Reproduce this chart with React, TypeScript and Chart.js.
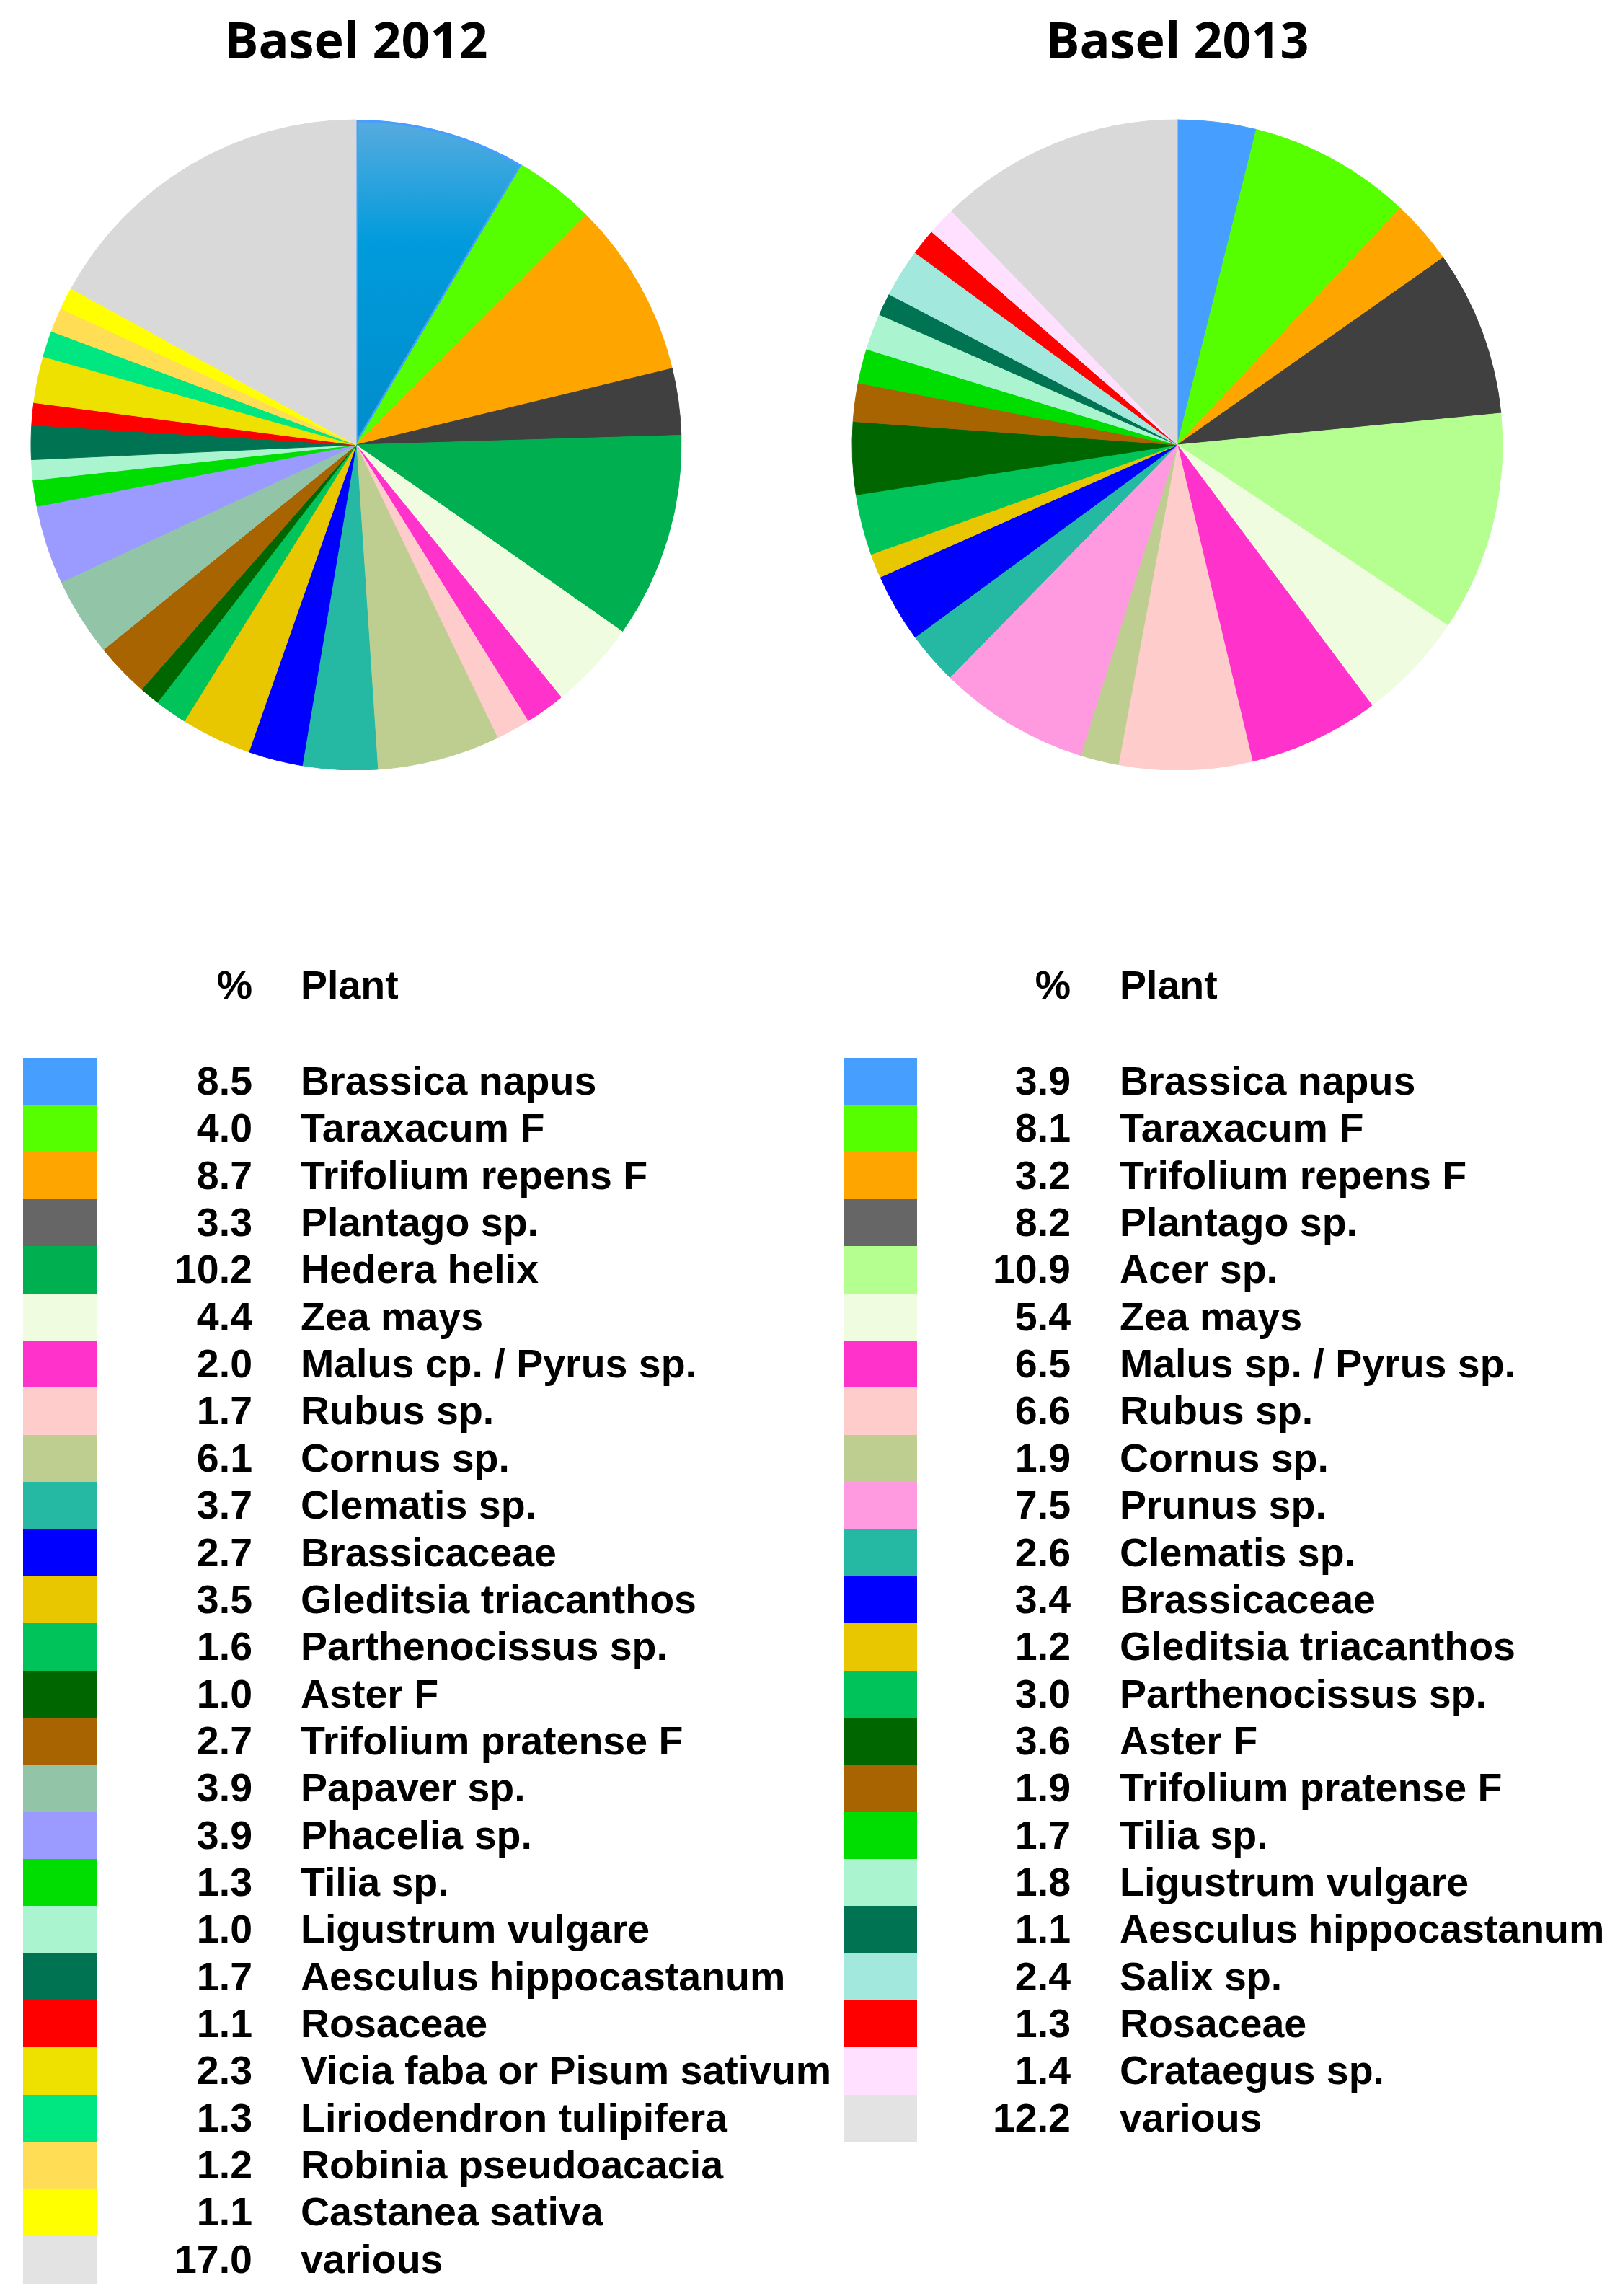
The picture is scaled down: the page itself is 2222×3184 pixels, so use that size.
import React, { useEffect, useRef } from "react";
import { Chart, registerables } from "chart.js";

Chart.register(...registerables);

// ---------- data ----------
const titles = ["Basel 2012", "Basel 2013"];

const plants2012 = [
  "Brassica napus", "Taraxacum F", "Trifolium repens F", "Plantago sp.", "Hedera helix",
  "Zea mays", "Malus cp. / Pyrus sp.", "Rubus sp.", "Cornus sp.", "Clematis sp.",
  "Brassicaceae", "Gleditsia triacanthos", "Parthenocissus sp.", "Aster F", "Trifolium pratense F",
  "Papaver sp.", "Phacelia sp.", "Tilia sp.", "Ligustrum vulgare", "Aesculus hippocastanum",
  "Rosaceae", "Vicia faba or Pisum sativum", "Liriodendron tulipifera", "Robinia pseudoacacia",
  "Castanea sativa", "various",
];
const values2012 = [
  8.5, 4.0, 8.7, 3.3, 10.2, 4.4, 2.0, 1.7, 6.1, 3.7, 2.7, 3.5, 1.6, 1.0, 2.7,
  3.9, 3.9, 1.3, 1.0, 1.7, 1.1, 2.3, 1.3, 1.2, 1.1, 17.0,
];
const sliceColors2012 = [
  "#0099DA", "#55FF00", "#FFA500", "#404040", "#00B050", "#EFFCE0", "#FF33CC", "#FFCCCC",
  "#BECE90", "#25B8A2", "#0000FF", "#E8C600", "#00C35A", "#006600", "#A86400", "#92C4A8",
  "#9B9BFF", "#00DD00", "#AAF5D0", "#007352", "#FF0000", "#EEE100", "#00E680", "#FFDD55",
  "#FFFF00", "#D9D9D9",
];
const legendColors2012 = [
  "#469EFF", "#55FF00", "#FFA500", "#666666", "#00B050", "#EFFCE0", "#FF33CC", "#FFCCCC",
  "#BECE90", "#25B8A2", "#0000FF", "#E8C600", "#00C35A", "#006600", "#A86400", "#92C4A8",
  "#9B9BFF", "#00DD00", "#AAF5D0", "#007352", "#FF0000", "#EEE100", "#00E680", "#FFDD55",
  "#FFFF00", "#E3E3E3",
];

const plants2013 = [
  "Brassica napus", "Taraxacum F", "Trifolium repens F", "Plantago sp.", "Acer sp.",
  "Zea mays", "Malus sp. / Pyrus sp.", "Rubus sp.", "Cornus sp.", "Prunus sp.",
  "Clematis sp.", "Brassicaceae", "Gleditsia triacanthos", "Parthenocissus sp.", "Aster F",
  "Trifolium pratense F", "Tilia sp.", "Ligustrum vulgare", "Aesculus hippocastanum",
  "Salix sp.", "Rosaceae", "Crataegus sp.", "various",
];
const values2013 = [
  3.9, 8.1, 3.2, 8.2, 10.9, 5.4, 6.5, 6.6, 1.9, 7.5, 2.6, 3.4, 1.2, 3.0, 3.6,
  1.9, 1.7, 1.8, 1.1, 2.4, 1.3, 1.4, 12.2,
];
const sliceColors2013 = [
  "#469EFF", "#55FF00", "#FFA500", "#404040", "#B4FF90", "#EFFCE0", "#FF33CC", "#FFCCCC",
  "#BECE90", "#FF99E0", "#25B8A2", "#0000FF", "#E8C600", "#00C35A", "#006600", "#A86400",
  "#00DD00", "#AAF5D0", "#007352", "#A2E8DD", "#FF0000", "#FFE0FF", "#D9D9D9",
];
const legendColors2013 = [
  "#469EFF", "#55FF00", "#FFA500", "#666666", "#B4FF90", "#EFFCE0", "#FF33CC", "#FFCCCC",
  "#BECE90", "#FF99E0", "#25B8A2", "#0000FF", "#E8C600", "#00C35A", "#006600", "#A86400",
  "#00DD00", "#AAF5D0", "#007352", "#A2E8DD", "#FF0000", "#FFE0FF", "#E3E3E3",
];

const legendHeader = ["%", "Plant"];

// ---------- layout ----------
const PIE_W = 988;
const PIE_H = 1068;
const PIE_R = 451;
const ROW_TOP = 1467;
const ROW_H = 65.35;
const LEGEND_FONT = "bold 55.5px 'Liberation Sans', Arial, sans-serif";

type PieProps = {
  left: number;
  title: string;
  labels: string[];
  values: number[];
  colors: string[];
  gradientFirst: boolean;
};

function PieChart({ left, title, labels, values, colors, gradientFirst }: PieProps) {
  const ref = useRef<HTMLCanvasElement | null>(null);
  useEffect(() => {
    if (!ref.current) return;
    const chart = new Chart(ref.current, {
      type: "pie",
      data: {
        labels,
        datasets: [
          {
            data: values,
            radius: PIE_R,
            backgroundColor: (c: any) => {
              const base = colors[c.dataIndex];
              if (gradientFirst && c.dataIndex === 0) {
                const area = c.chart.chartArea;
                if (!area) return base;
                const cy = (area.top + area.bottom) / 2;
                const g = c.chart.ctx.createLinearGradient(0, cy - PIE_R, 0, cy);
                g.addColorStop(0, "#58ABDF");
                g.addColorStop(0.38, "#009BDC");
                g.addColorStop(1, "#008CCA");
                return g;
              }
              return base;
            },
            borderColor: (c: any) =>
              gradientFirst && c.dataIndex === 0 ? "#469EFF" : colors[c.dataIndex],
            borderWidth: (c: any) => (gradientFirst && c.dataIndex === 0 ? 3 : 1),
            borderAlign: (c: any) => (gradientFirst && c.dataIndex === 0 ? "inner" : "center"),
          } as any,
        ],
      },
      options: {
        responsive: false,
        animation: false,
        devicePixelRatio: 1,
        layout: { padding: 0 },
        plugins: {
          legend: { display: false },
          tooltip: { enabled: false },
          title: {
            display: true,
            text: title,
            color: "#000000",
            font: { family: "'Open Sans', sans-serif", size: 70, weight: "bold", lineHeight: 1.2 },
            padding: { top: 19, bottom: 63 },
          },
        },
      } as any,
    });
    return () => chart.destroy();
  }, []);
  return (
    <canvas
      ref={ref}
      width={PIE_W}
      height={PIE_H}
      style={{ position: "absolute", left, top: 0, width: PIE_W, height: PIE_H }}
    />
  );
}

type LegendProps = {
  swatchLeft: number;
  swatchWidth: number;
  numRight: number;
  nameLeft: number;
  names: string[];
  values: number[];
  colors: string[];
};

function LegendTable({ swatchLeft, swatchWidth, numRight, nameLeft, names, values, colors }: LegendProps) {
  const textBase: React.CSSProperties = {
    position: "absolute",
    font: LEGEND_FONT,
    lineHeight: `${ROW_H}px`,
    height: ROW_H,
    color: "#000",
    whiteSpace: "nowrap",
  };
  return (
    <>
      <div style={{ ...textBase, top: 1334, left: numRight - 200, width: 200, textAlign: "right" }}>
        {legendHeader[0]}
      </div>
      <div style={{ ...textBase, top: 1334, left: nameLeft }}>{legendHeader[1]}</div>
      {names.map((n, i) => (
        <React.Fragment key={i}>
          <div
            style={{
              position: "absolute",
              left: swatchLeft,
              top: ROW_TOP + i * ROW_H,
              width: swatchWidth,
              height: ROW_H + 0.6,
              background: colors[i],
            }}
          />
          <div
            style={{ ...textBase, top: ROW_TOP + i * ROW_H, left: numRight - 200, width: 200, textAlign: "right" }}
          >
            {values[i].toFixed(1)}
          </div>
          <div style={{ ...textBase, top: ROW_TOP + i * ROW_H, left: nameLeft }}>{n}</div>
        </React.Fragment>
      ))}
    </>
  );
}

export default function App() {
  return (
    <div
      style={{
        position: "absolute",
        left: 0,
        top: 0,
        width: 2222,
        height: 3184,
        overflow: "hidden",
        background: "#ffffff",
      }}
    >
      <PieChart
        left={0}
        title={titles[0]}
        labels={plants2012}
        values={values2012}
        colors={sliceColors2012}
        gradientFirst={true}
      />
      <PieChart
        left={1139}
        title={titles[1]}
        labels={plants2013}
        values={values2013}
        colors={sliceColors2013}
        gradientFirst={false}
      />
      <LegendTable
        swatchLeft={32}
        swatchWidth={103}
        numRight={350}
        nameLeft={417}
        names={plants2012}
        values={values2012}
        colors={legendColors2012}
      />
      <LegendTable
        swatchLeft={1170}
        swatchWidth={102}
        numRight={1485}
        nameLeft={1553}
        names={plants2013}
        values={values2013}
        colors={legendColors2013}
      />
    </div>
  );
}
